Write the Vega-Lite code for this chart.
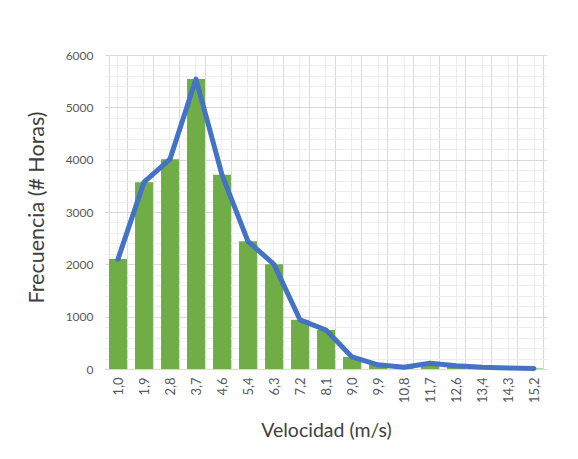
{
  "$schema": "https://vega.github.io/schema/vega-lite/v6.json",
  "autosize": "none",
  "width": 442,
  "height": 314,
  "padding": {"left": 105, "top": 55, "right": 31, "bottom": 90},
  "background": "white",
  "config": {
    "view": {"stroke": null},
    "font": "Lato",
    "axis": {"labelFont": "Lato", "titleFont": "Lato", "labelColor": "#595959", "titleColor": "#404040", "titleFontWeight": "normal"}
  },
  "data": {
    "values": [
      {"vel": "1,0", "freq": 2100},
      {"vel": "1,9", "freq": 3570},
      {"vel": "2,8", "freq": 4010},
      {"vel": "3,7", "freq": 5540},
      {"vel": "4,6", "freq": 3710},
      {"vel": "5,4", "freq": 2440},
      {"vel": "6,3", "freq": 2000},
      {"vel": "7,2", "freq": 940},
      {"vel": "8,1", "freq": 745},
      {"vel": "9,0", "freq": 230},
      {"vel": "9,9", "freq": 80},
      {"vel": "10,8", "freq": 32},
      {"vel": "11,7", "freq": 110},
      {"vel": "12,6", "freq": 60},
      {"vel": "13,4", "freq": 32},
      {"vel": "14,3", "freq": 20},
      {"vel": "15,2", "freq": 10}
    ]
  },
  "resolve": {"axis": {"x": "independent", "y": "independent"}},
  "layer": [
    {
      "mark": {"type": "bar", "color": "#70AD47"},
      "encoding": {
        "x": {
          "field": "vel", "type": "ordinal", "sort": null,
          "scale": {"paddingInner": 0.31, "paddingOuter": 0.155},
          "axis": {"orient": "bottom", "grid": true, "gridColor": "#eeeeee", "gridWidth": 1, "labels": false, "ticks": false, "domain": false, "title": null}
        },
        "y": {
          "field": "freq", "type": "quantitative",
          "scale": {"domain": [0, 6000], "nice": false},
          "axis": {"orient": "left", "values": [200,400,600,800,1200,1400,1600,1800,2200,2400,2600,2800,3200,3400,3600,3800,4200,4400,4600,4800,5200,5400,5600,5800], "grid": true, "gridColor": "#eeeeee", "labels": false, "ticks": false, "domain": false, "title": null}
        }
      }
    },
    {
      "mark": {"type": "line", "color": "#4472C4", "strokeWidth": 5, "strokeJoin": "round", "strokeCap": "round"},
      "encoding": {
        "x": {
          "field": "vel", "type": "ordinal", "sort": null,
          "axis": {"orient": "bottom", "tickBand": "extent", "grid": true, "gridColor": "#d9d9d9", "ticks": false, "domain": true, "domainColor": "#d9d9d9", "labelAngle": -90, "labelFontSize": 13, "labelPadding": 8, "title": "Velocidad (m/s)", "titleFontSize": 19.5, "titleY": 67, "titleBaseline": "alphabetic"}
        },
        "y": {
          "field": "freq", "type": "quantitative",
          "axis": {"orient": "left", "values": [0,1000,2000,3000,4000,5000,6000], "format": "d", "grid": true, "gridColor": "#d9d9d9", "ticks": false, "domain": false, "labelFontSize": 12, "labelPadding": 12, "title": "Frecuencia (# Horas)", "titleFontSize": 21.5, "titleX": -68, "titleY": 152, "titleAngle": -90, "titleBaseline": "middle"}
        }
      }
    }
  ]
}
